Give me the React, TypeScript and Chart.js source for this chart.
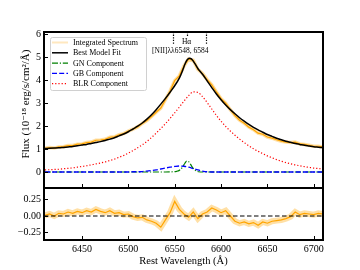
import React, { useEffect, useRef } from "react";
import { Chart, registerables } from "chart.js";

Chart.register(...registerables);

// ---------- data ----------
const wavelengths = [
  6410, 6415, 6420, 6425, 6430, 6435, 6440, 6445, 6450, 6455, 6460, 6465, 6470, 6475, 6480, 6485,
  6490, 6495, 6500, 6505, 6510, 6515, 6520, 6525, 6530, 6535, 6540, 6545, 6550, 6555, 6560, 6565,
  6570, 6575, 6580, 6585, 6590, 6595, 6600, 6605, 6610, 6615, 6620, 6625, 6630, 6635, 6640, 6645,
  6650, 6655, 6660, 6665, 6670, 6675, 6680, 6685, 6690, 6695, 6700, 6705, 6710,
];

const spectrumFlux = [
  1.03, 1.06, 1.04, 1.09, 1.10, 1.15, 1.15, 1.21, 1.22, 1.28, 1.30, 1.38, 1.39, 1.42, 1.51, 1.53,
  1.62, 1.67, 1.78, 1.86, 1.96, 2.11, 2.24, 2.41, 2.60, 2.78, 3.14, 3.52, 3.97, 4.18, 4.61, 4.91,
  4.86, 4.46, 4.28, 4.02, 3.79, 3.48, 3.19, 2.99, 2.71, 2.45, 2.25, 2.12, 1.95, 1.84, 1.69, 1.64,
  1.52, 1.47, 1.40, 1.34, 1.30, 1.28, 1.30, 1.22, 1.20, 1.16, 1.12, 1.12, 1.09,
];

const residuals = [
  0.01, 0.03, 0.00, 0.04, 0.03, 0.06, 0.04, 0.07, 0.05, 0.08, 0.06, 0.10, 0.07, 0.05, 0.08, 0.04,
  0.05, 0.02, 0.03, -0.01, -0.03, -0.02, -0.06, -0.08, -0.11, -0.17, -0.06, 0.05, 0.22, 0.10, 0.03, -0.02,
  0.06, -0.04, 0.03, 0.06, 0.12, 0.09, 0.05, 0.08, 0.00, -0.08, -0.11, -0.09, -0.12, -0.10, -0.14, -0.09,
  -0.11, -0.08, -0.07, -0.06, -0.04, -0.01, 0.06, 0.02, 0.04, 0.03, 0.02, 0.04, 0.03,
];

const modelWl = [
  6410, 6415, 6420, 6425, 6430, 6435, 6440, 6445, 6450, 6455, 6460, 6465, 6470, 6475, 6480, 6485,
  6490, 6495, 6500, 6505, 6510, 6515, 6520, 6525, 6530, 6535, 6540, 6545, 6550, 6555, 6558, 6560,
  6562, 6564, 6566, 6568, 6570, 6572, 6575, 6580, 6585, 6590, 6595, 6600, 6605, 6610, 6615, 6620,
  6625, 6630, 6635, 6640, 6645, 6650, 6655, 6660, 6665, 6670, 6675, 6680, 6685, 6690, 6695, 6700,
  6705, 6710,
];

const modelFlux = [
  1.02, 1.03, 1.04, 1.05, 1.07, 1.09, 1.11, 1.14, 1.17, 1.20, 1.24, 1.28, 1.32, 1.37, 1.43, 1.49,
  1.57, 1.65, 1.75, 1.87, 1.99, 2.13, 2.30, 2.49, 2.71, 2.95, 3.20, 3.47, 3.75, 4.08, 4.36, 4.58,
  4.78, 4.90, 4.95, 4.92, 4.82, 4.70, 4.50, 4.25, 3.96, 3.67, 3.39, 3.14, 2.91, 2.71, 2.53, 2.36,
  2.21, 2.07, 1.94, 1.83, 1.73, 1.63, 1.55, 1.47, 1.40, 1.34, 1.29, 1.24, 1.20, 1.16, 1.13, 1.10,
  1.08, 1.06,
];

const blrFlux = [
  0.09, 0.10, 0.11, 0.12, 0.14, 0.16, 0.18, 0.21, 0.24, 0.27, 0.31, 0.35, 0.39, 0.44, 0.50, 0.56,
  0.64, 0.72, 0.82, 0.93, 1.05, 1.18, 1.33, 1.50, 1.69, 1.89, 2.10, 2.33, 2.57, 2.82, 3.08, 3.32,
  3.48, 3.46, 3.28, 3.02, 2.74, 2.46, 2.21, 1.98, 1.78, 1.60, 1.43, 1.28, 1.14, 1.01, 0.90, 0.80,
  0.70, 0.62, 0.54, 0.47, 0.41, 0.36, 0.31, 0.27, 0.23, 0.20, 0.17, 0.15, 0.13,
];

const gbFlux = [
  0, 0, 0, 0, 0, 0, 0, 0, 0, 0, 0, 0, 0, 0, 0, 0,
  0, 0, 0, 0.01, 0.01, 0.02, 0.04, 0.06, 0.09, 0.13, 0.17, 0.21, 0.24, 0.26, 0.25, 0.21,
  0.15, 0.09, 0.04, 0.01, 0, 0, 0, 0, 0, 0, 0, 0, 0, 0, 0, 0,
  0, 0, 0, 0, 0, 0, 0, 0, 0, 0, 0, 0, 0,
];

const gnWl = [6410, 6540, 6548, 6552, 6555, 6557, 6559, 6561, 6563, 6565, 6567, 6569, 6571, 6573, 6576, 6580, 6710];
const gnFlux = [0, 0, 0.01, 0.03, 0.07, 0.14, 0.25, 0.38, 0.47, 0.45, 0.34, 0.21, 0.11, 0.05, 0.01, 0, 0];

const zeroWl = [6409, 6710];
const zeroLevel = [0, 0];

const xTicks = [6450, 6500, 6550, 6600, 6650, 6700];
const fluxTicks = [0, 1, 2, 3, 4, 5, 6];
const residTicks = [-0.25, 0, 0.25];
const lineMarkers = [6548.05, 6562.8, 6583.45];
const markerLabels = ["H\u03b1", "[NII]\u03bb\u03bb6548, 6584"];
const legendLabels = ["Integrated Spectrum", "Best Model Fit", "GN Component", "GB Component", "BLR Component"];
const xTitle = "Rest Wavelength (\u00c5)";
const yTitle = "Flux (10\u207b\u00b9\u2078 erg/s/cm\u00b2/\u00c5)";

// ---------- styles ----------
const SERIF = "'Liberation Serif', 'DejaVu Serif', serif";
const ORANGE = "#FFA500";
const ORANGE_BAND = "rgba(255,165,0,0.35)";
const legendStyles = [
  { color: "rgba(255,165,0,0.25)", width: 2, dash: [] as number[] },
  { color: "#000000", width: 1.5, dash: [] as number[] },
  { color: "#008000", width: 1.2, dash: [6, 1.8, 1.2, 1.8] },
  { color: "#0000FF", width: 1.3, dash: [5, 2.2] },
  { color: "#FF0000", width: 1.2, dash: [1.2, 2] },
];

const pts = (xs: number[], ys: number[]) => xs.map((x, i) => ({ x, y: ys[i] }));

const decorPlugin = {
  id: "decor",
  afterDatasetsDraw(chart: any) {
    const ctx = chart.ctx as CanvasRenderingContext2D;
    const xs = chart.scales.x;
    const yF = chart.scales.yFlux;
    const yR = chart.scales.yRes;
    const L = chart.chartArea.left;
    const R = chart.chartArea.right;
    ctx.save();

    // line markers
    ctx.strokeStyle = "#000";
    ctx.lineWidth = 1.2;
    ctx.setLineDash([1.3, 1.3]);
    lineMarkers.forEach((w, i) => {
      const px = Math.round(xs.getPixelForValue(w)) + 0.5;
      ctx.beginPath();
      ctx.moveTo(px, yF.top);
      ctx.lineTo(px, yF.top + (i === 1 ? 5 : 13));
      ctx.stroke();
    });
    ctx.setLineDash([]);
    ctx.fillStyle = "#000";
    ctx.textAlign = "center";
    ctx.textBaseline = "middle";
    ctx.font = `7.5px ${SERIF}`;
    ctx.fillText(markerLabels[0], xs.getPixelForValue(lineMarkers[1]), yF.top + 10);
    ctx.fillText(markerLabels[1], xs.getPixelForValue(6556), yF.top + 19);

    // legend
    const lx = 50, ly = 37, lw = 96, lh = 53;
    ctx.beginPath();
    ctx.roundRect(lx + 0.5, ly + 0.5, lw, lh, 2);
    ctx.fillStyle = "rgba(255,255,255,0.85)";
    ctx.fill();
    ctx.strokeStyle = "#d0d0d0";
    ctx.lineWidth = 1;
    ctx.stroke();
    ctx.font = `8px ${SERIF}`;
    ctx.textAlign = "left";
    legendLabels.forEach((lab, i) => {
      const yy = ly + 5.5 + i * 10.3;
      const st = legendStyles[i];
      ctx.strokeStyle = st.color;
      ctx.lineWidth = st.width;
      ctx.setLineDash(st.dash);
      ctx.beginPath();
      ctx.moveTo(lx + 2, yy);
      ctx.lineTo(lx + 18, yy);
      ctx.stroke();
      ctx.setLineDash([]);
      ctx.fillStyle = "#000";
      ctx.fillText(lab, lx + 23, yy + 0.5);
    });

    // ticks (inward)
    ctx.strokeStyle = "#000";
    ctx.lineWidth = 1;
    xTicks.forEach((v) => {
      const px = Math.round(xs.getPixelForValue(v)) + 0.5;
      ctx.beginPath();
      ctx.moveTo(px, yF.bottom);
      ctx.lineTo(px, yF.bottom - 4);
      ctx.moveTo(px, yR.bottom);
      ctx.lineTo(px, yR.bottom - 4);
      ctx.stroke();
    });
    fluxTicks.forEach((v) => {
      const py = Math.round(yF.getPixelForValue(v)) + 0.5;
      ctx.beginPath();
      ctx.moveTo(L, py);
      ctx.lineTo(L + 4, py);
      ctx.stroke();
    });
    residTicks.forEach((v) => {
      const py = Math.round(yR.getPixelForValue(v)) + 0.5;
      ctx.beginPath();
      ctx.moveTo(L, py);
      ctx.lineTo(L + 4, py);
      ctx.stroke();
    });

    // frames
    ctx.lineWidth = 2;
    ctx.strokeRect(L, yF.top, R - L, yF.bottom - yF.top);
    ctx.strokeRect(L, yR.top, R - L, yR.bottom - yR.top);

    // axis titles
    ctx.fillStyle = "#000";
    ctx.font = `10.5px ${SERIF}`;
    ctx.textAlign = "center";
    ctx.textBaseline = "middle";
    ctx.fillText(xTitle, (L + R) / 2, 261);
    ctx.save();
    ctx.font = `11px ${SERIF}`;
    ctx.translate(26, (yF.top + yF.bottom) / 2 - 6);
    ctx.rotate(-Math.PI / 2);
    ctx.fillText(yTitle, 0, 0);
    ctx.restore();

    ctx.restore();
  },
};

const tickFont = { family: SERIF, size: 10 };

export default function App() {
  const ref = useRef<HTMLCanvasElement | null>(null);
  useEffect(() => {
    if (!ref.current) return;
    const chart = new Chart(ref.current, {
      type: "line",
      data: {
        datasets: [
          { data: pts(zeroWl, zeroLevel), yAxisID: "yRes", borderColor: "#000", borderWidth: 1.2, borderDash: [4.5, 2.5], pointRadius: 0, order: 1 },
          { data: pts(wavelengths, residuals), yAxisID: "yRes", borderColor: ORANGE, borderWidth: 1.2, pointRadius: 0, tension: 0, order: 2 },
          { data: pts(wavelengths, residuals), yAxisID: "yRes", borderColor: ORANGE_BAND, borderWidth: 6, pointRadius: 0, tension: 0, order: 3 },
          { data: pts(wavelengths, blrFlux), yAxisID: "yFlux", borderColor: "#FF0000", borderWidth: 1.2, borderDash: [1.2, 2], pointRadius: 0, cubicInterpolationMode: "monotone", order: 4 },
          { data: pts(wavelengths, gbFlux), yAxisID: "yFlux", borderColor: "#0000FF", borderWidth: 1.3, borderDash: [5, 2.2], pointRadius: 0, cubicInterpolationMode: "monotone", order: 5 },
          { data: pts(gnWl, gnFlux), yAxisID: "yFlux", borderColor: "#008000", borderWidth: 1.2, borderDash: [6, 1.8, 1.2, 1.8], pointRadius: 0, cubicInterpolationMode: "monotone", order: 6 },
          { data: pts(modelWl, modelFlux), yAxisID: "yFlux", borderColor: "#000000", borderWidth: 1.5, pointRadius: 0, cubicInterpolationMode: "monotone", order: 7 },
          { data: pts(wavelengths, spectrumFlux), yAxisID: "yFlux", borderColor: ORANGE, borderWidth: 1.2, pointRadius: 0, tension: 0, order: 8 },
          { data: pts(wavelengths, spectrumFlux), yAxisID: "yFlux", borderColor: ORANGE_BAND, borderWidth: 3.5, pointRadius: 0, tension: 0, order: 9 },
        ] as any,
      },
      options: {
        animation: false,
        responsive: false,
        events: [],
        layout: { padding: { left: 0, right: 37, top: 32, bottom: 0 } },
        plugins: { legend: { display: false }, tooltip: { enabled: false } },
        scales: {
          x: {
            type: "linear",
            min: 6409,
            max: 6710,
            grid: { display: false, drawTicks: false },
            border: { display: false },
            ticks: { autoSkip: false, padding: 3, font: tickFont, color: "#000", maxRotation: 0, callback: (v: any) => String(v) },
            afterBuildTicks: (s: any) => { s.ticks = xTicks.map((v) => ({ value: v })); },
            afterFit: (s: any) => { s.height = 30; },
          },
          yRes: {
            type: "linear",
            position: "left",
            stack: "panels",
            stackWeight: 1,
            min: -0.364,
            max: 0.424,
            grid: { display: false, drawTicks: false },
            border: { display: false },
            ticks: { autoSkip: false, padding: 3, font: tickFont, color: "#000", callback: (v: any) => Number(v).toFixed(2).replace("-", "\u2212") },
            afterBuildTicks: (s: any) => { s.ticks = residTicks.map((v) => ({ value: v })); },
            afterFit: (s: any) => { s.width = 44; },
          },
          yFlux: {
            type: "linear",
            position: "left",
            stack: "panels",
            stackWeight: 3,
            min: -0.696,
            max: 6.087,
            grid: { display: false, drawTicks: false },
            border: { display: false },
            ticks: { autoSkip: false, padding: 3, font: tickFont, color: "#000", callback: (v: any) => String(v) },
            afterBuildTicks: (s: any) => { s.ticks = fluxTicks.map((v) => ({ value: v })); },
            afterFit: (s: any) => { s.width = 44; },
          },
        } as any,
      },
      plugins: [decorPlugin],
    });
    return () => chart.destroy();
  }, []);
  return (
    <div style={{ position: "fixed", left: 0, top: 0, width: 360, height: 270, background: "#fff" }}>
      <canvas ref={ref} width={360} height={270} style={{ width: 360, height: 270, display: "block" }} />
    </div>
  );
}
